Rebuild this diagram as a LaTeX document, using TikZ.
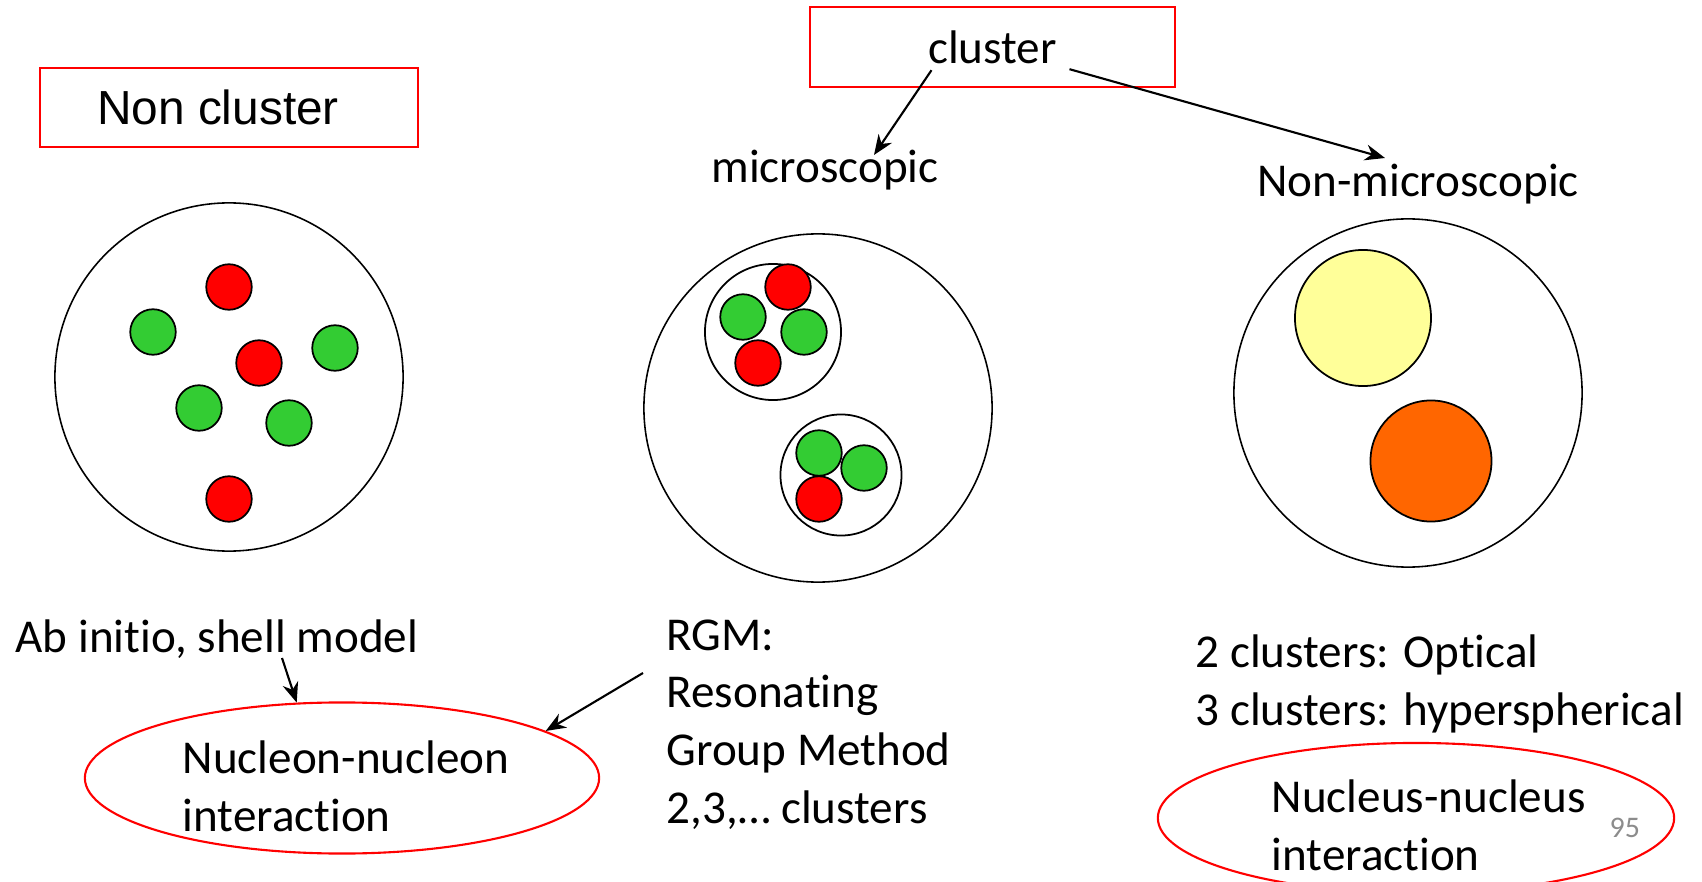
\documentclass[tikz,border=0pt]{standalone}
\usepackage{fontspec}
\setmainfont{Carlito}[Ligatures=NoCommon]
\newfontfamily\arialfont{Liberation Sans}
\usepackage{tikz}
\usetikzlibrary{
  arrows.meta,
  shapes,
  shapes.geometric,
  positioning,
  calc
}
\definecolor{nuRed}{HTML}{FF0000}
\definecolor{nuGreen}{HTML}{33CC33}
\definecolor{nuYellow}{HTML}{FFFF99}
\definecolor{nuOrange}{HTML}{FF6600}
\definecolor{nuGrey}{HTML}{8C8C8C}
\tikzset{
  txt/.style={inner sep=0pt, align=left},
  titlebox/.style={draw=nuRed, line width=0.6pt, inner sep=0pt},
  nucleus/.style={circle, draw, line width=0.45pt, minimum size=3.48cm, inner sep=0pt},
  subclus/.style={circle, draw, line width=0.5pt, inner sep=0pt},
  proton/.style={circle, draw, fill=nuRed, line width=0.5pt, minimum size=4.55mm, inner sep=0pt},
  neutron/.style={proton, fill=nuGreen},
  interact/.style={ellipse, draw=nuRed, line width=0.6pt, inner sep=0pt},
  flow/.style={-{Stealth[length=2mm, width=1.6mm]}, line width=0.6pt}
}

\begin{document}
\begin{tikzpicture}[x=0.01cm, y=-0.01cm, font=\fontsize{13.4pt}{16.4pt}\selectfont]
  \useasboundingbox (0,0) rectangle (1702,882);

  % headings
  \node[titlebox, font=\arialfont\fontsize{13.6pt}{16pt}\selectfont, minimum width=3.78cm, minimum height=0.79cm] (noncl) at (229,107.5) {Non cluster\rule{0.22cm}{0pt}};
  \node[titlebox, minimum width=3.65cm, minimum height=0.8cm] (cluster) at (992.5,47) {cluster};
  \node[txt, anchor=base] (micro) at (825,183) {microscopic};
  \node[txt, anchor=base] (nonmicro) at (1418,197) {Non-microscopic};
  \draw[flow] ([shift={(-61,7)}]cluster.base) -- ([shift={(49,-28)}]micro.base);
  \draw[flow] ([shift={(77,6)}]cluster.base) -- ([shift={(-33,-39)}]nonmicro.base);

  % non cluster nucleus
  \node[nucleus] (left) at (229,377) {};
  \foreach \x/\y [count=\i] in {229/287, 259/363, 229/499}
    \node[proton] (lp\i) at (\x,\y) {};
  \foreach \x/\y [count=\i] in {153/332, 335/348, 199/408, 289/423}
    \node[neutron] (ln\i) at (\x,\y) {};

  % microscopic cluster nucleus
  \node[nucleus] (mid) at (818,408) {};
  \node[subclus, minimum size=1.36cm] (mc1) at (773,332) {};
  \node[subclus, minimum size=1.21cm] (mc2) at (841,475) {};
  \foreach \x/\y [count=\i] in {788/287, 758/363, 819/499}
    \node[proton] (mp\i) at (\x,\y) {};
  \foreach \x/\y [count=\i] in {743/317, 804/332, 819/453, 864/468}
    \node[neutron] (mn\i) at (\x,\y) {};

  % non-microscopic
  \node[nucleus] (right) at (1408,393) {};
  \node[subclus, fill=nuYellow, minimum size=1.36cm] (ry) at (1363,318) {};
  \node[subclus, fill=nuOrange, minimum size=1.21cm] (ro) at (1431,461) {};

  % bottom texts
  \node[txt, anchor=base west] (abinit) at (15,652) {Ab initio, shell model};
  \node[interact, minimum width=5.14cm, minimum height=1.51cm] (nn) at (342,778) {};
  \node[txt, anchor=north west] (nntxt) at (182,740) {Nucleon-nucleon\\interaction};
  \draw[flow] ([shift={(267,6)}]abinit.base west) -- (nn.121);
  \node[txt, anchor=north west] (rgm) at (666,619) {RGM:\\Resonating\\Group Method\\2,3,… clusters};
  \coordinate (rgmtail) at (643,673);
  \draw[flow] (rgmtail) -- (nn.13);

  \node[txt, anchor=north west] (opt) at (1195,634) {2 clusters: Optical\\3 clusters: hyperspherical};
  \node[interact, minimum width=5.16cm, minimum height=1.5cm] (nucl) at (1416,818) {};
  \node[txt, anchor=north west] (nucltxt) at (1271,779) {Nucleus-nucleus\\interaction};
  \node[txt, anchor=base west, text=nuGrey, font=\fontsize{8.5pt}{10pt}\selectfont] (pg) at (1609,837) {95};
\end{tikzpicture}
\end{document}
